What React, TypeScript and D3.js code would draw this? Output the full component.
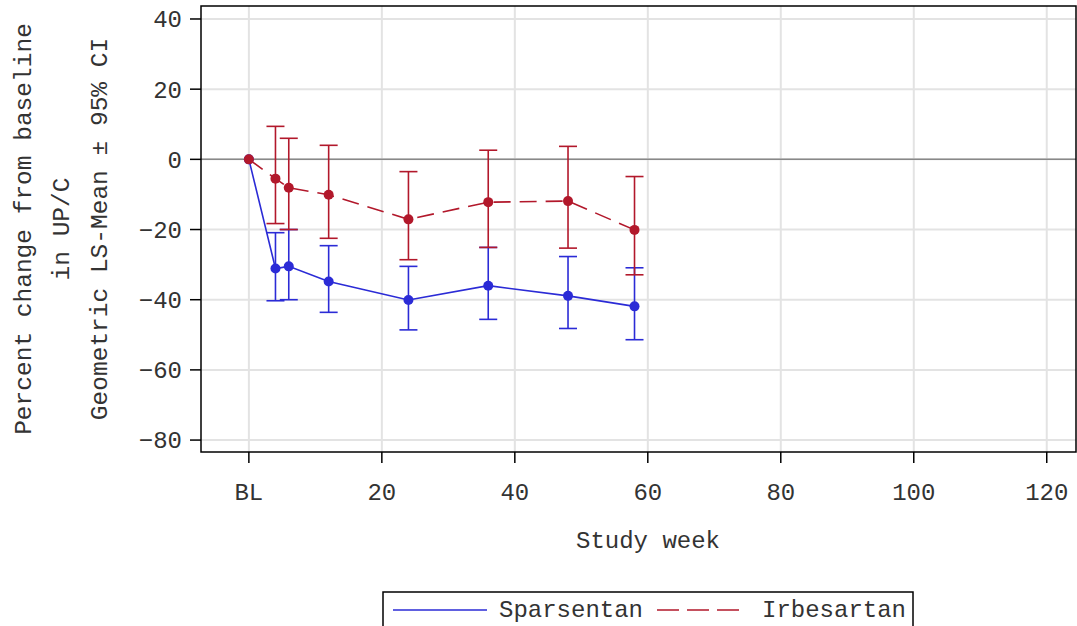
import React from 'react';
import * as d3 from 'd3';

const weeks = [0, 4, 6, 12, 24, 36, 48, 58];
const sparsentanMean = [0, -31.1, -30.5, -34.8, -40.1, -36.0, -38.9, -41.9];
const sparsentanLower = [0, -40.3, -40.0, -43.6, -48.6, -45.6, -48.2, -51.4];
const sparsentanUpper = [0, -20.9, -20.0, -24.6, -30.5, -25.1, -27.7, -30.9];
const irbesartanMean = [0, -5.5, -8.1, -10.1, -17.1, -12.2, -11.9, -20.1];
const irbesartanLower = [0, -18.3, -20.0, -22.5, -28.6, -25.1, -25.3, -32.9];
const irbesartanUpper = [0, 9.4, 6.0, 4.0, -3.5, 2.6, 3.7, -4.9];
const xTicks = [0, 20, 40, 60, 80, 100, 120];
const yTicks = [40, 20, 0, -20, -40, -60, -80];
const yLabelLines = ['Percent change from baseline', 'in UP/C', 'Geometric LS-Mean \u00b1 95% CI'];

const W = 1077;
const H = 626;
const left = 201;
const right = 1076;
const top = 6;
const bottom = 452;
const font = '"Liberation Mono", "DejaVu Sans Mono", monospace';

const BLUE = '#2b2bd6';
const RED = '#b2182b';
const TEXT = '#333';

export default function App() {
  const x = d3.scaleLinear().domain([-7.2, 124.4]).range([left, right]);
  const y = d3.scaleLinear().domain([-83.4, 43.7]).range([bottom, top]);

  const series = [
    { name: 'Sparsentan', color: BLUE, dash: null, mean: sparsentanMean, lo: sparsentanLower, hi: sparsentanUpper },
    { name: 'Irbesartan', color: RED, dash: '17,9', mean: irbesartanMean, lo: irbesartanLower, hi: irbesartanUpper },
  ];

  const line = d3.line<number>().x((_, i) => x(weeks[i])).y((d) => y(d));
  const cap = 9;

  return (
    <svg width={W} height={H} style={{ position: 'absolute', left: 0, top: 0, background: '#fff' }} fontFamily={font}>
      {/* grid */}
      {xTicks.map((t) => (
        <line key={'gx' + t} x1={x(t)} x2={x(t)} y1={top} y2={bottom} stroke="#e3e3e3" strokeWidth={2} />
      ))}
      {yTicks.map((t) => (
        <line key={'gy' + t} x1={left} x2={right} y1={y(t)} y2={y(t)} stroke="#e3e3e3" strokeWidth={2} />
      ))}
      <line x1={left} x2={right} y1={y(0)} y2={y(0)} stroke="#888" strokeWidth={1.5} />

      {/* series */}
      {series.map((s) => (
        <g key={s.name}>
          <path d={line(s.mean) || ''} fill="none" stroke={s.color} strokeWidth={1.6} strokeDasharray={s.dash || undefined} />
          {weeks.map((w, i) =>
            i === 0 ? null : (
              <g key={i} stroke={s.color} strokeWidth={1.6}>
                <line x1={x(w)} x2={x(w)} y1={y(s.lo[i])} y2={y(s.hi[i])} />
                <line x1={x(w) - cap} x2={x(w) + cap} y1={y(s.lo[i])} y2={y(s.lo[i])} />
                <line x1={x(w) - cap} x2={x(w) + cap} y1={y(s.hi[i])} y2={y(s.hi[i])} />
              </g>
            )
          )}
          {weeks.map((w, i) => (
            <circle key={'p' + i} cx={x(w)} cy={y(s.mean[i])} r={5} fill={s.color} />
          ))}
        </g>
      ))}

      {/* frame */}
      <rect x={left} y={top} width={right - left} height={bottom - top} fill="none" stroke="#000" strokeWidth={1.5} />

      {/* y axis */}
      {yTicks.map((t) => (
        <g key={'yt' + t}>
          <line x1={left - 11} x2={left} y1={y(t)} y2={y(t)} stroke="#000" strokeWidth={1.5} />
          <text x={left - 19} y={y(t)} dy="0.35em" textAnchor="end" fontSize={24} fill={TEXT}>
            {t < 0 ? '\u2212' + Math.abs(t) : String(t)}
          </text>
        </g>
      ))}
      {/* x axis */}
      {xTicks.map((t) => (
        <g key={'xt' + t}>
          <line x1={x(t)} x2={x(t)} y1={bottom} y2={bottom + 11} stroke="#000" strokeWidth={1.5} />
          <text x={x(t)} y={bottom + 48} textAnchor="middle" fontSize={24} fill={TEXT}>
            {t === 0 ? 'BL' : String(t)}
          </text>
        </g>
      ))}
      <text x={648} y={548} textAnchor="middle" fontSize={24} fill={TEXT}>
        Study week
      </text>
      {yLabelLines.map((l, i) => (
        <text
          key={l}
          transform={`translate(${31 + i * 38},${(top + bottom) / 2}) rotate(-90)`}
          textAnchor="middle"
          fontSize={24.5}
          fill={TEXT}
        >
          {l}
        </text>
      ))}

      {/* legend */}
      <rect x={383} y={592} width={530} height={40} fill="#fff" stroke="#000" strokeWidth={1.5} />
      <line x1={393} x2={487} y1={610} y2={610} stroke={BLUE} strokeWidth={1.6} />
      <text x={499} y={617} fontSize={24} fill={TEXT}>Sparsentan</text>
      <line x1={657} x2={740} y1={610} y2={610} stroke={RED} strokeWidth={1.6} strokeDasharray="22,8" />
      <text x={762} y={617} fontSize={24} fill={TEXT}>Irbesartan</text>
    </svg>
  );
}
